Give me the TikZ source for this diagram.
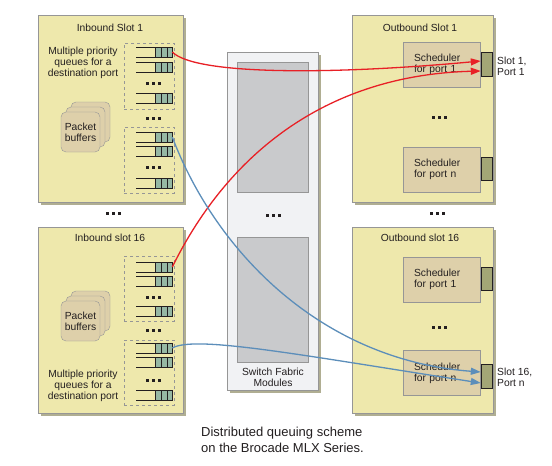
\documentclass[tikz,border=0pt]{standalone}
\usepackage{fontspec}
\setmainfont{Liberation Sans}
\usetikzlibrary{positioning,arrows.meta,shadows}

\definecolor{slotfill}{RGB}{238,232,172}
\definecolor{slotshade}{RGB}{176,174,146}
\definecolor{boxline}{RGB}{150,150,150}
\definecolor{fabfill}{RGB}{241,242,244}
\definecolor{modfill}{RGB}{201,202,204}
\definecolor{tanfill}{RGB}{222,208,170}
\definecolor{qfill}{RGB}{150,184,164}
\definecolor{portfill}{RGB}{163,166,118}
\definecolor{redline}{RGB}{232,32,38}
\definecolor{blueline}{RGB}{92,142,186}
\definecolor{inkk}{RGB}{35,31,32}

\tikzset{
  txt/.style={text=inkk,font=\fontsize{10.3}{11}\selectfont,inner sep=0pt,align=center},
  slotbox/.style={draw=boxline,fill=slotfill,inner sep=0pt,
    drop shadow={shadow xshift=3pt,shadow yshift=-3pt,fill=slotshade,opacity=1}},
  fabbox/.style={draw=boxline,fill=fabfill,inner sep=0pt,
    drop shadow={shadow xshift=3pt,shadow yshift=-3pt,fill=slotshade,opacity=1}},
  modbox/.style={draw=boxline,fill=modfill,inner sep=0pt,minimum width=71},
  qgroup/.style={draw=boxline,dashed,inner sep=0pt,minimum width=50,minimum height=66},
  qline/.style={draw=inkk,line width=0.6pt},
  qcell/.style={qline,fill=qfill,minimum width=17,minimum height=10,inner sep=0pt},
  bufbox/.style={draw=boxline,fill=tanfill,rounded corners=5pt,minimum width=39,minimum height=40},
  schedbox/.style={txt,draw=boxline,fill=tanfill,minimum width=77,minimum height=45,
    text width=55,align=left},
  portbox/.style={draw=inkk,fill=portfill,minimum width=11,minimum height=24,inner sep=0pt},
  flow/.style={line width=1.3pt,-{Triangle[length=10pt,width=7pt]}},
}

% queue: name, y
\newcommand\queue[2]{%
  \draw[qline] (136,#2-5) -- (172,#2-5) (136,#2+5) -- (172,#2+5);
  \node[qcell] (#1) at (163.5,#2) {};
  \draw[qline] (161.2,#2-5) -- (161.2,#2+5) (166.8,#2-5) -- (166.8,#2+5);
}
% three dots at x,y
\newcommand\dotrow[2]{\foreach \d in {-6,0,6} \fill[inkk] (#1+\d-1.5,#2-1.5) rectangle ++(3,3);}

\begin{document}
\begin{tikzpicture}[x=1pt,y=-1pt]
  \fill[white] (0,0) rectangle (552,466);
  \useasboundingbox (0,0) rectangle (552,466);

  % slots
  \node[slotbox,minimum width=145,minimum height=187] (in1) at (110.5,108.5) {};
  \node[slotbox,minimum width=145,minimum height=186] (in16) at (110.5,320) {};
  \node[slotbox,minimum width=141,minimum height=187] (out1) at (422.5,108.5) {};
  \node[slotbox,minimum width=141,minimum height=186] (out16) at (422.5,320) {};
  \node[fabbox,minimum width=91,minimum height=338] (fab) at (272.5,221) {};
  \node[modbox,minimum height=130] (mod1) at (272.5,127) {};
  \node[modbox,minimum height=125] (mod16) at (272.5,299.5) {};

  \node[txt] (in1t) at (110,28) {Inbound Slot 1};
  \node[txt] (in16t) at (110,238) {Inbound slot 16};
  \node[txt] (out1t) at (420,28) {Outbound Slot 1};
  \node[txt] (out16t) at (420,238) {Outbound slot 16};
  \node[txt] (fabt) at (273,377) {Switch Fabric\\Modules};
  \node[txt] (in1q) at (83,62.5) {Multiple priority\\queues for a\\destination port};
  \node[txt] (in16q) at (83,386) {Multiple priority\\queues for a\\destination port};

  % packet buffers
  \foreach \s/\n in {in1/132,in16/321}{
    \node[bufbox] (\s b3) at (90.5,\n-10) {};
    \node[bufbox] (\s b2) at (85.5,\n-5) {};
    \node[bufbox,txt] (\s b1) at (80.5,\n) {Packet\\buffers};
  }

  % queue groups
  \node[qgroup] (in1ga) at (149,76) {};
  \node[qgroup] (in1gb) at (149,160) {};
  \node[qgroup,minimum height=65] (in16ga) at (149,288.5) {};
  \node[qgroup,minimum height=65] (in16gb) at (149,372.5) {};
  \queue{in1a1}{52} \queue{in1a2}{67} \queue{in1a3}{98}
  \queue{in1b1}{137} \queue{in1b2}{151} \queue{in1b3}{183}
  \queue{in16a1}{267} \queue{in16a2}{281} \queue{in16a3}{311}
  \queue{in16b1}{348} \queue{in16b2}{362} \queue{in16b3}{395}
  \dotrow{153}{83} \dotrow{153}{118} \dotrow{153}{167}
  \dotrow{153}{297} \dotrow{153}{330} \dotrow{153}{380}
  \dotrow{113}{213} \dotrow{437}{213} \dotrow{273}{215}
  \dotrow{439}{117} \dotrow{439}{327}

  % schedulers and ports
  \node[schedbox] (out1s1) at (441.5,64.5) {Scheduler\\for port 1};
  \node[schedbox] (out1sn) at (441.5,169.5) {Scheduler\\for port n};
  \node[schedbox] (out16s1) at (441.5,279.5) {Scheduler\\for port 1};
  \node[schedbox] (out16sn) at (441.5,373) {Scheduler\\for port n};
  \node[portbox] (out1p1) at (486.5,64) {};
  \node[portbox,minimum height=23] (out1pn) at (486.5,168.5) {};
  \node[portbox,minimum height=23] (out16p1) at (486.5,278.5) {};
  \node[portbox] (out16pn) at (486.5,376) {};
  \node[txt,align=left,anchor=west] (out1l) at (497,66.5) {Slot 1,\\Port 1};
  \node[txt,align=left,anchor=west] (out16l) at (497,377) {Slot 16,\\Port n};

  % flows
  \draw[flow,redline] (in1a1.east) .. controls (195,75) and (330,75) .. ([yshift=3pt]out1p1.west);
  \draw[flow,redline] (in16a1.east) .. controls (230,150) and (330,75) .. ([yshift=-7pt]out1p1.west);
  \draw[flow,blueline] (in1b1.east) .. controls (215,250) and (320,360) .. ([yshift=4pt]out16pn.west);
  \draw[flow,blueline] (in16b1.east) .. controls (195,335) and (300,355) .. ([yshift=-7pt]out16pn.west);

  \node[txt,align=left,font=\fontsize{13}{16}\selectfont] (cap) at (282.5,440)
    {Distributed queuing scheme\\on the Brocade MLX Series.};
\end{tikzpicture}
\end{document}
